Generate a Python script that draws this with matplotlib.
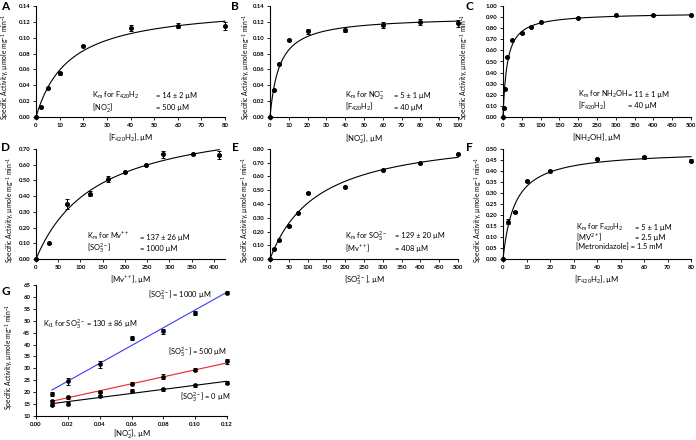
import numpy as np
import matplotlib
matplotlib.use("Agg")
import matplotlib.pyplot as plt

plt.rcParams['font.family'] = ['Lato', 'DejaVu Sans']
plt.rcParams['mathtext.fontset'] = 'custom'
plt.rcParams['mathtext.rm'] = 'Lato'
plt.rcParams['mathtext.it'] = 'Lato:italic'
plt.rcParams['mathtext.bf'] = 'Lato:bold'

# ---------------- data ----------------
# Panel A: F420H2 saturation
a_x = [0, 2, 5, 10, 20, 40, 60, 80]
a_y = [0, 0.012, 0.036, 0.055, 0.090, 0.112, 0.115, 0.115]
a_err = [0, 0.001, 0.001, 0.002, 0.001, 0.004, 0.003, 0.005]
a_vmax, a_km = 0.142, 14

# Panel B: nitrite saturation
b_x = [0, 2, 5, 10, 20, 40, 60, 80, 100]
b_y = [0, 0.034, 0.067, 0.097, 0.108, 0.110, 0.116, 0.120, 0.118]
b_err = [0, 0.001, 0.001, 0.001, 0.003, 0.003, 0.004, 0.004, 0.004]
b_vmax, b_km = 0.127, 5

# Panel C: hydroxylamine saturation
c_x = [0, 2, 5, 10, 25, 50, 75, 100, 200, 300, 400, 500]
c_y = [0, 0.08, 0.25, 0.54, 0.69, 0.76, 0.815, 0.855, 0.895, 0.915, 0.915, 0.915]
c_err = [0, 0.005, 0.005, 0.005, 0.005, 0.01, 0.005, 0.005, 0.005, 0.005, 0.005, 0.005]
c_vmax, c_km = 0.94, 11

# Panel D: methyl viologen saturation
d_x = [0, 30, 70, 121, 162, 201, 247, 285, 354, 412]
d_y = [0, 0.10, 0.35, 0.415, 0.51, 0.555, 0.60, 0.665, 0.668, 0.662]
d_err = [0, 0.005, 0.03, 0.015, 0.02, 0.006, 0.006, 0.025, 0.006, 0.025]
d_vmax, d_km = 0.927, 137

# Panel E: sulfite saturation
e_x = [0, 10, 25, 50, 75, 100, 200, 300, 400, 500]
e_y = [0, 0.075, 0.135, 0.24, 0.335, 0.48, 0.525, 0.645, 0.695, 0.76]
e_err = [0, 0.005, 0.005, 0.005, 0.005, 0.005, 0.005, 0.005, 0.005, 0.005]
e_vmax, e_km = 0.93, 129

# Panel F: F420H2 saturation (metronidazole)
f_x = [0, 2, 5, 10, 20, 40, 60, 80]
f_y = [0, 0.17, 0.215, 0.355, 0.40, 0.455, 0.462, 0.447]
f_err = [0, 0.01, 0.004, 0.004, 0.004, 0.004, 0.006, 0.008]
f_vmax, f_km = 0.494, 5

# Panel G: inhibition by sulfite
g_x = [0.01, 0.02, 0.04, 0.06, 0.08, 0.10, 0.12]
g_1000 = [19.2, 24.6, 31.8, 42.7, 45.6, 53.3, 61.8]
g_1000_err = [1.0, 1.5, 1.5, 0.8, 1.0, 0.8, 0.5]
g_500 = [16.1, 17.8, 20.2, 23.6, 26.5, 29.4, 32.9]
g_500_err = [0.5, 0.6, 0.5, 0.5, 1.0, 0.6, 1.0]
g_0 = [14.7, 15.2, 18.3, 20.7, 21.3, 22.9, 24.0]
g_0_err = [0.5, 0.5, 0.5, 0.8, 0.6, 0.6, 0.5]
g_fit_x = [0.01, 0.12]
g_fit_1000 = [20.9, 62.0]
g_fit_500 = [16.2, 32.3]
g_fit_0 = [15.2, 24.6]

YLAB = r'Specific Activity, µmole mg$^{\mathregular{-1}}$ min$^{\mathregular{-1}}$'

W, H = 696, 440
fig = plt.figure(figsize=(W / 100, H / 100), dpi=100)
fig.patch.set_facecolor('white')

ANN_FS = 5.4


def make_ax(l, r, t, b):
    return fig.add_axes([l / W, 1 - b / H, (r - l) / W, (b - t) / H])


def style(ax, xlim, xticks, ylim, yticks, yfmt, xfmt, xlabel, ylab_x, xlab_y=-0.135):
    ax.set_xlim(*xlim)
    ax.set_ylim(*ylim)
    ax.set_xticks(xticks)
    ax.set_yticks(yticks)
    ax.set_xticklabels([xfmt.format(v) for v in xticks])
    ax.set_yticklabels([yfmt.format(v) for v in yticks])
    for s in ['top', 'right']:
        ax.spines[s].set_visible(False)
    for s in ['left', 'bottom']:
        ax.spines[s].set_linewidth(0.8)
    ax.tick_params(direction='out', length=2, width=0.6, labelsize=4.3, pad=2)
    for lab in ax.get_xticklabels() + ax.get_yticklabels():
        lab.set_fontweight('bold')
    ax.set_xlabel(xlabel, fontsize=5.6)
    ax.xaxis.set_label_coords(0.5, xlab_y)
    ax.set_ylabel(YLAB, fontsize=4.9)
    ax.yaxis.set_label_coords(ylab_x, 0.45)


def mm_panel(ax, x, y, err, vmax, km):
    xs = np.linspace(0, max(x), 300)
    ax.plot(xs, vmax * xs / (km + xs), color='black', lw=0.8, clip_on=False)
    ax.errorbar(x, y, yerr=err, fmt='o', color='black', ms=2.6, elinewidth=0.7,
                capsize=1.2, capthick=0.7, clip_on=False, zorder=5)


def annot(ax, rows, x1, x2, ys, fs=ANN_FS):
    for (t1, t2), yy in zip(rows, ys):
        ax.text(x1, yy, t1, transform=ax.transAxes, fontsize=fs, va='center')
        if t2:
            ax.text(x2, yy, t2, transform=ax.transAxes, fontsize=fs, va='center')


# ---- A ----
ax = make_ax(36, 225, 6, 117)
mm_panel(ax, a_x, a_y, a_err, a_vmax, a_km)
style(ax, (0, 80), range(0, 81, 10), (0, 0.14), np.arange(0, 0.141, 0.02), '{:.2f}', '{:d}',
      r'[F$_{\mathregular{420}}$H$_{\mathregular{2}}$], µM', -0.132)
annot(ax, [(r'K$_{\mathregular{m}}$ for F$_{\mathregular{420}}$H$_{\mathregular{2}}$', '= 14 ± 2 µM'),
           (r'[NO$_{\mathregular{2}}^{\mathregular{-}}$]', '= 500 µM')], 0.296, 0.635, [0.195, 0.09])

# ---- B ----
ax = make_ax(270, 458, 6, 117)
mm_panel(ax, b_x, b_y, b_err, b_vmax, b_km)
style(ax, (0, 100), range(0, 101, 10), (0, 0.14), np.arange(0, 0.141, 0.02), '{:.2f}', '{:d}',
      r'[NO$_{\mathregular{2}}^{\mathregular{-}}$], µM', -0.096)
annot(ax, [(r'K$_{\mathregular{m}}$ for NO$_{\mathregular{2}}^{\mathregular{-}}$', '= 5 ± 1 µM'),
           (r'[F$_{\mathregular{420}}$H$_{\mathregular{2}}$]', '= 40 µM')], 0.40, 0.66, [0.195, 0.09])

# ---- C ----
ax = make_ax(503, 691, 6, 117)
mm_panel(ax, c_x, c_y, c_err, c_vmax, c_km)
style(ax, (0, 500), range(0, 501, 50), (0, 1.0), np.arange(0, 1.001, 0.1), '{:.2f}', '{:d}',
      r'[NH$_{\mathregular{2}}$OH], µM', -0.175)
annot(ax, [(r'K$_{\mathregular{m}}$ for NH$_{\mathregular{2}}$OH', '= 11 ± 1 µM'),
           (r'[F$_{\mathregular{420}}$H$_{\mathregular{2}}$]', '= 40 µM')], 0.40, 0.665, [0.20, 0.10])

# ---- D ----
ax = make_ax(36, 225, 149, 259)
mm_panel(ax, d_x, d_y, d_err, d_vmax, d_km)
style(ax, (0, 425), range(0, 401, 50), (0, 0.70), np.arange(0, 0.701, 0.1), '{:.2f}', '{:d}',
      r'[Mv$^{\mathregular{++}}$], µM', -0.106)
annot(ax, [(r'K$_{\mathregular{m}}$ for Mv$^{\mathregular{++}}$', '= 137 ± 26 µM'),
           (r'[SO$_{\mathregular{3}}^{\mathregular{2-}}$]', '= 1000 µM')], 0.27, 0.55, [0.20, 0.095])

# ---- E ----
ax = make_ax(270, 458, 149, 259)
mm_panel(ax, e_x, e_y, e_err, e_vmax, e_km)
style(ax, (0, 500), range(0, 501, 50), (0, 0.80), np.arange(0, 0.801, 0.1), '{:.2f}', '{:d}',
      r'[SO$_{\mathregular{3}}^{\mathregular{2-}}$], µM', -0.10)
annot(ax, [(r'K$_{\mathregular{m}}$ for SO$_{\mathregular{3}}^{\mathregular{2-}}$', '= 129 ± 20 µM'),
           (r'[Mv$^{\mathregular{++}}$]', '= 408 µM')], 0.40, 0.665, [0.21, 0.10])

# ---- F ----
ax = make_ax(503, 691, 149, 259)
mm_panel(ax, f_x, f_y, f_err, f_vmax, f_km)
style(ax, (0, 80), range(0, 81, 10), (0, 0.50), np.arange(0, 0.501, 0.05), '{:.2f}', '{:d}',
      r'[F$_{\mathregular{420}}$H$_{\mathregular{2}}$], µM', -0.10)
annot(ax, [(r'K$_{\mathregular{m}}$ for F$_{\mathregular{420}}$H$_{\mathregular{2}}$', '= 5 ± 1 µM'),
           (r'[MV$^{\mathregular{2+}}$]', '= 2.5 µM'),
           ('[Metronidazole] = 1.5 mM', None)], 0.39, 0.70, [0.29, 0.20, 0.11])

# ---- G ----
ax = make_ax(36, 227, 285, 416)
ax.plot(g_fit_x, g_fit_1000, color='#3c3cf0', lw=0.8)
ax.plot(g_fit_x, g_fit_500, color='#f02020', lw=0.8)
ax.plot(g_fit_x, g_fit_0, color='black', lw=0.8)
for yy, ee in [(g_1000, g_1000_err), (g_500, g_500_err), (g_0, g_0_err)]:
    ax.errorbar(g_x, yy, yerr=ee, fmt='o', color='black', ms=2.4, elinewidth=0.7,
                capsize=1.2, capthick=0.7, clip_on=False, zorder=5)
style(ax, (0, 0.12), np.arange(0, 0.1201, 0.02), (10, 65), range(10, 66, 5), '{:d}', '{:.2f}',
      r'[NO$_{\mathregular{2}}^{\mathregular{-}}$], µM', -0.11, xlab_y=-0.085)
ax.text(0.0044, 48.6, r'K$_{\mathregular{i1}}$ for SO$_{\mathregular{3}}^{\mathregular{2-}}$ = 130 ± 86 µM',
        fontsize=ANN_FS, va='center')
ax.text(0.0704, 60.8, r'[SO$_{\mathregular{3}}^{\mathregular{2-}}$] = 1000 µM', fontsize=ANN_FS, va='center')
ax.text(0.083, 36.9, r'[SO$_{\mathregular{3}}^{\mathregular{2-}}$] = 500 µM', fontsize=ANN_FS, va='center')
ax.text(0.0905, 18.0, r'[SO$_{\mathregular{3}}^{\mathregular{2-}}$] = 0 µM', fontsize=ANN_FS, va='center')

# panel letters
for letter, px, py in [('A', 1, 1), ('B', 231, 1), ('C', 465, 1), ('D', 1, 142),
                       ('E', 232, 142), ('F', 466, 142), ('G', 1, 286)]:
    fig.text(px / W, 1 - py / H, letter, fontsize=8.5, fontweight='bold', va='top', ha='left')

fig.savefig('out.png', dpi=100, facecolor='white')
